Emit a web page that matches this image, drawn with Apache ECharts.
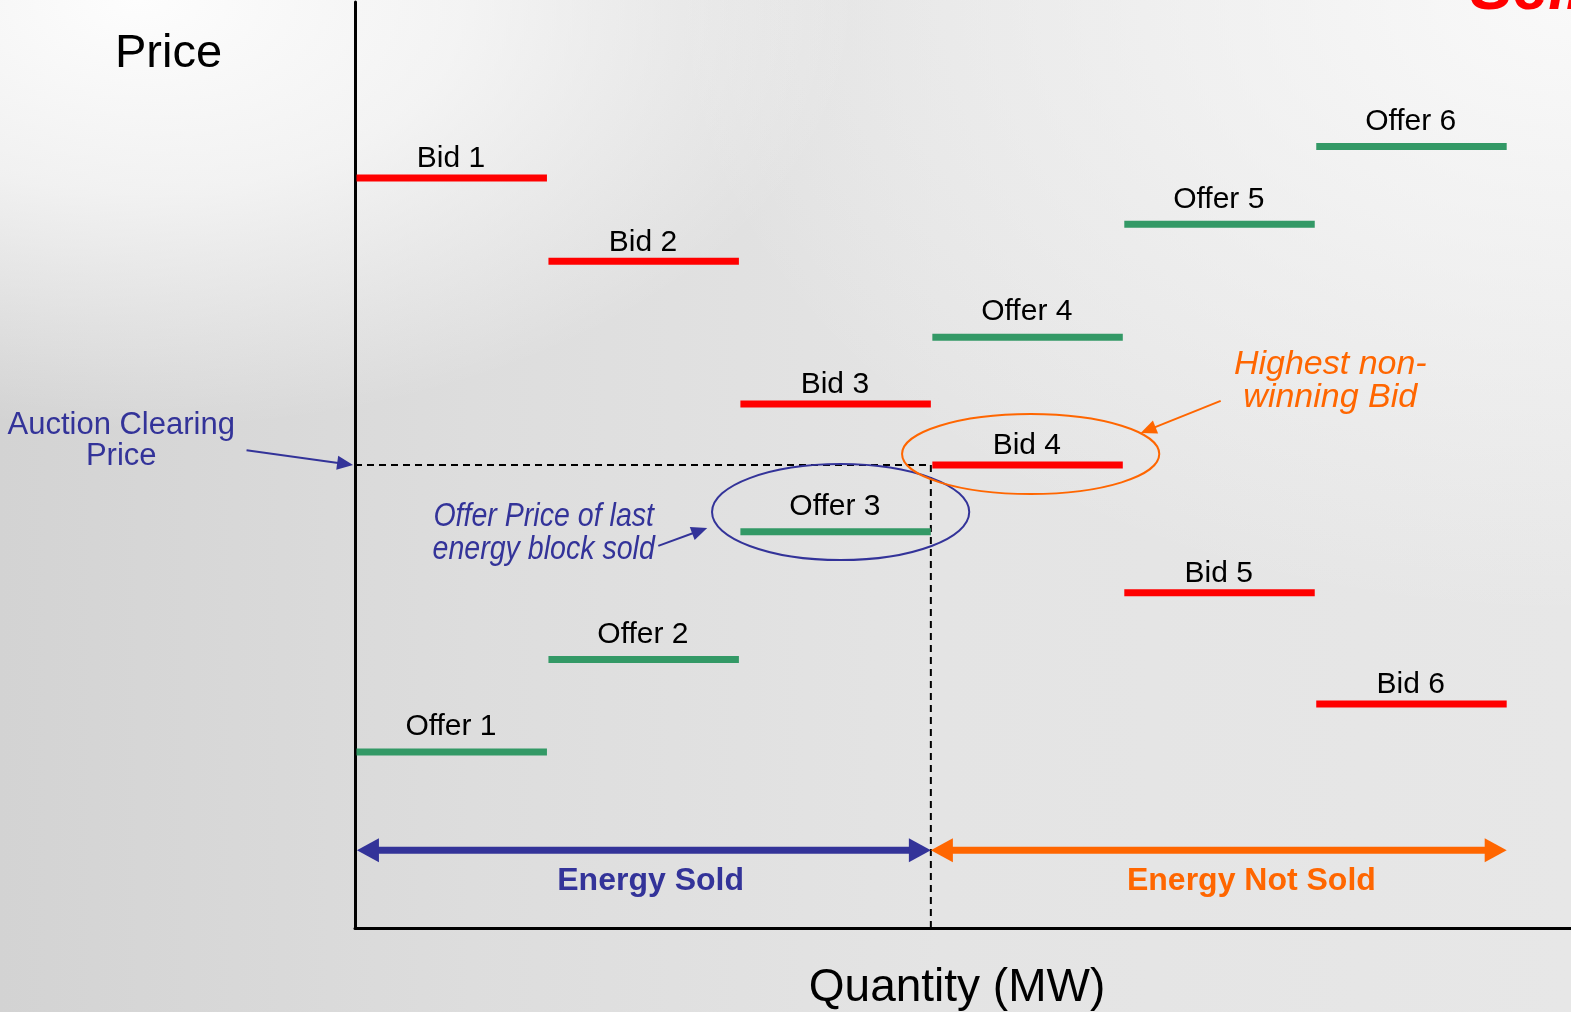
<!DOCTYPE html>
<html>
<head>
<meta charset="utf-8">
<script src="https://cdn.jsdelivr.net/npm/echarts@6/dist/echarts.min.js"></script>
<style>
html,body{margin:0;padding:0;width:1571px;height:1012px;overflow:hidden}
body{
  background:
    radial-gradient(ellipse 720px 430px at 140px 0px, rgba(253,253,253,1) 0%, rgba(253,253,253,0.7) 45%, rgba(253,253,253,0) 100%),
    radial-gradient(ellipse 900px 620px at 1571px 0px, rgba(250,250,250,0.95) 0%, rgba(250,250,250,0.4) 55%, rgba(250,250,250,0) 100%),
    linear-gradient(90deg, #d3d3d3 0%, #dddddd 30%, #e4e4e4 60%, #e7e7e7 100%);
}
#chart{width:1571px;height:1012px}
</style>
</head>
<body>
<div id="chart"></div>
<script>
// ---------------- data ----------------
const blockStart = [0, 1, 2, 3, 4, 5];          // MW, start of each energy block
const blockEnd   = [1, 2, 3, 4, 5, 6];          // MW, end of each energy block
const bidNames   = ['Bid 1', 'Bid 2', 'Bid 3', 'Bid 4', 'Bid 5', 'Bid 6'];
const bidPrices  = [40.5, 36.0, 28.3, 25.0, 18.1, 12.1];
const offerNames = ['Offer 1', 'Offer 2', 'Offer 3', 'Offer 4', 'Offer 5', 'Offer 6'];
const offerPrices = [9.5, 14.5, 21.4, 31.9, 38.0, 42.2];
const clearingQuantity = 3;
const clearingPrice = 25.0;
const energyArrowPrice = 4.2;
const energySoldRange = [0, 3];
const energyNotSoldRange = [3, 6];
const energyLabels = ['Energy Sold', 'Energy Not Sold'];
const energyLabelQ = [1.54, 4.67];
const energyLabelP = 2.55;
// ellipses: [centre MW, centre price, half width MW, half height price]
const ellipseOffer3 = [2.53, 22.46, 0.67, 2.59];
const ellipseBid4   = [3.52, 25.59, 0.67, 2.16];
// annotation arrows: [fromMW, fromPrice, toMW, toPrice]
const arrowClearing = [-0.565, 25.8, -0.01, 25.0];
const arrowOffer    = [1.58, 20.63, 1.835, 21.6];
const arrowBid      = [4.51, 28.46, 4.093, 26.73];
// annotation texts: [MW, price]
const noteTexts = ['Auction Clearing\nPrice', 'Offer Price of last\nenergy block sold', 'Highest non-\nwinning Bid'];
const noteQ = [-1.218, 0.983, 5.081];
const noteP = [26.3, 21.35, 29.56];

// ---------------- styles ----------------
const FONT = "'Liberation Sans', Arial, Helvetica, sans-serif";
const RED = '#ff0000', GREEN = '#339966', BLUE = '#333399', ORANGE = '#ff6600';

const chart = echarts.init(document.getElementById('chart'), null, {renderer: 'canvas'});

function segmentSeries(prices, names, color, labelOffset) {
  return {
    type: 'custom', clip: false, silent: true,
    data: prices.map((p, i) => [blockStart[i], blockEnd[i], p]),
    renderItem: function (params, api) {
      const s = api.coord([api.value(0), api.value(2)]);
      const e = api.coord([api.value(1), api.value(2)]);
      return {
        type: 'group',
        children: [
          {type: 'line', shape: {x1: s[0] + 1.5, y1: s[1], x2: e[0], y2: e[1]},
           style: {stroke: color, lineWidth: 7}},
          {type: 'text', style: {text: names[params.dataIndex], x: (s[0] + e[0]) / 2, y: s[1] - labelOffset,
            align: 'center', verticalAlign: 'middle', fontSize: 30, fontFamily: FONT, fill: '#000'}}
        ]
      };
    }
  };
}

function arrowShapes(s, e, color, width, headLen, headHalf, both) {
  const dx = e[0] - s[0], dy = e[1] - s[1];
  const len = Math.sqrt(dx * dx + dy * dy);
  const ux = dx / len, uy = dy / len, nx = -uy, ny = ux;
  const head = (tip, sx, sy) => {
    const bx = tip[0] - sx * headLen, by = tip[1] - sy * headLen;
    return {type: 'polygon', shape: {points: [[tip[0], tip[1]], [bx + nx * headHalf, by + ny * headHalf], [bx - nx * headHalf, by - ny * headHalf]]},
            style: {fill: color}};
  };
  const a = both ? [s[0] + ux * headLen * 0.6, s[1] + uy * headLen * 0.6] : s;
  const b = [e[0] - ux * headLen * 0.6, e[1] - uy * headLen * 0.6];
  const children = [{type: 'line', shape: {x1: a[0], y1: a[1], x2: b[0], y2: b[1]}, style: {stroke: color, lineWidth: width}}];
  children.push(head(e, ux, uy));
  if (both) children.push(head(s, -ux, -uy));
  return children;
}

function arrowSeries(list, color, width, headLen, headHalf, both) {
  return {
    type: 'custom', clip: false, silent: true,
    data: list,
    renderItem: function (params, api) {
      const s = api.coord([api.value(0), api.value(1)]);
      const e = api.coord([api.value(2), api.value(3)]);
      return {type: 'group', children: arrowShapes(s, e, color, width, headLen, headHalf, both)};
    }
  };
}

function ellipseSeries(el, color) {
  return {
    type: 'custom', clip: false, silent: true,
    data: [el],
    renderItem: function (params, api) {
      const c = api.coord([api.value(0), api.value(1)]);
      const sz = api.size([api.value(2), api.value(3)]);
      return {type: 'ellipse', shape: {cx: c[0], cy: c[1], rx: sz[0], ry: sz[1]},
              style: {fill: 'none', stroke: color, lineWidth: 2}};
    }
  };
}

const noteStyles = [
  {style: {fill: BLUE, fontSize: 31, fontStyle: 'normal', fontFamily: FONT, lineHeight: 31}, scaleX: 1},
  {style: {fill: BLUE, fontSize: 34, fontStyle: 'italic', fontFamily: FONT, lineHeight: 33}, scaleX: 0.84},
  {style: {fill: ORANGE, fontSize: 34, fontStyle: 'italic', fontFamily: FONT, lineHeight: 33}, scaleX: 1}
];

const option = {
  animation: false,
  backgroundColor: 'transparent',
  grid: {left: 355, right: 0, top: 2, bottom: 84, containLabel: false},
  xAxis: {
    type: 'value', min: 0, max: 6.335,
    axisLine: {show: true, onZero: false, lineStyle: {color: '#000', width: 3}},
    axisTick: {show: false}, axisLabel: {show: false}, splitLine: {show: false}
  },
  yAxis: {
    type: 'value', min: 0, max: 50,
    axisLine: {show: true, onZero: false, lineStyle: {color: '#000', width: 3}},
    axisTick: {show: false}, axisLabel: {show: false}, splitLine: {show: false}
  },
  graphic: [
    {type: 'text', left: 115, top: 31, style: {text: 'Price', fontSize: 47, fontFamily: FONT, fill: '#000'}},
    {type: 'text', x: 957, y: 988, style: {text: 'Quantity (MW)', align: 'center', verticalAlign: 'middle', fontSize: 46, fontFamily: FONT, fill: '#000'}},
    {type: 'text', x: 1470, y: 23, style: {text: 'Sell', align: 'left', verticalAlign: 'bottom', fontSize: 64, fontWeight: 'bold', fontStyle: 'italic', fontFamily: FONT, fill: RED}}
  ],
  series: [
    // clearing price / quantity dashed guides
    {
      type: 'custom', clip: false, silent: true,
      data: [[clearingQuantity, clearingPrice]],
      renderItem: function (params, api) {
        const c = api.coord([api.value(0), api.value(1)]);
        const o = api.coord([0, 0]);
        const st = {stroke: '#000', lineWidth: 2, lineDash: [7, 5]};
        return {type: 'group', children: [
          {type: 'line', shape: {x1: o[0], y1: c[1], x2: c[0], y2: c[1]}, style: st},
          {type: 'line', shape: {x1: c[0], y1: c[1], x2: c[0], y2: o[1]}, style: st}
        ]};
      }
    },
    segmentSeries(bidPrices, bidNames, RED, 19),
    segmentSeries(offerPrices, offerNames, GREEN, 25),
    ellipseSeries(ellipseOffer3, BLUE),
    ellipseSeries(ellipseBid4, ORANGE),
    arrowSeries([[energySoldRange[0] + 0.01, energyArrowPrice, energySoldRange[1], energyArrowPrice]], BLUE, 7, 22, 12, true),
    arrowSeries([[energyNotSoldRange[0], energyArrowPrice, energyNotSoldRange[1], energyArrowPrice]], ORANGE, 7, 22, 12, true),
    arrowSeries([arrowClearing, arrowOffer], BLUE, 2, 16, 7, false),
    arrowSeries([arrowBid], ORANGE, 2, 16, 7, false),
    // energy labels
    {
      type: 'custom', clip: false, silent: true,
      data: energyLabelQ.map(q => [q, energyLabelP]),
      renderItem: function (params, api) {
        const c = api.coord([api.value(0), api.value(1)]);
        return {type: 'text', style: {text: energyLabels[params.dataIndex], x: c[0], y: c[1], align: 'center', verticalAlign: 'middle',
          fontSize: 32, fontWeight: 'bold', fontFamily: FONT, fill: params.dataIndex === 0 ? BLUE : ORANGE}};
      }
    },
    // annotation notes
    {
      type: 'custom', clip: false, silent: true,
      data: noteQ.map((q, i) => [q, noteP[i]]),
      renderItem: function (params, api) {
        const c = api.coord([api.value(0), api.value(1)]);
        const s = noteStyles[params.dataIndex];
        return {type: 'text', x: c[0], y: c[1], scaleX: s.scaleX,
          style: Object.assign({text: noteTexts[params.dataIndex], x: 0, y: 0, align: 'center', verticalAlign: 'middle'}, s.style)};
      }
    }
  ]
};
chart.setOption(option);
</script>
</body>
</html>
